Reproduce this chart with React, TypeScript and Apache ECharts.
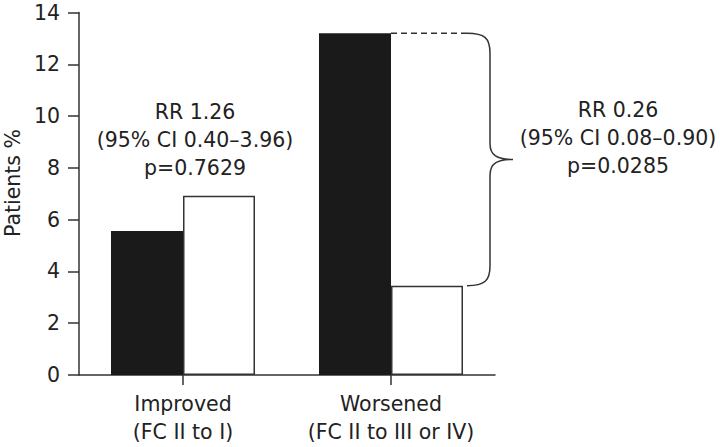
import React, { useEffect, useRef } from "react";
import * as echarts from "echarts";

const categories = ["Improved\n(FC II to I)", "Worsened\n(FC II to III or IV)"];
const seriesA = [5.56, 13.2];
const seriesB = [6.92, 3.45];
const yTicks = { min: 0, max: 14, interval: 2 };
const yTitle = "Patients %";
const annotLeft = ["RR 1.26", "(95% CI 0.40–3.96)", "p=0.7629"];
const annotRight = ["RR 0.26", "(95% CI 0.08–0.90)", "p=0.0285"];
const braceData = [[1, seriesA[1], seriesB[1]]];

const FONT = "DejaVu Sans, Liberation Sans, Arial, sans-serif";
const FS = 20.5;
const TXT = "#222";
const LINE = "#333";

export default function App() {
  const ref = useRef<HTMLDivElement>(null);
  useEffect(() => {
    if (!ref.current) return;
    const chart = echarts.init(ref.current, null, { renderer: "svg" });
    chart.setOption({
      animation: false,
      backgroundColor: "#fff",
      textStyle: { fontFamily: FONT },
      grid: { left: 79, right: 225, top: 12.5, bottom: 72, containLabel: false },
      xAxis: {
        type: "category",
        data: categories,
        axisLine: { show: true, lineStyle: { color: LINE, width: 1.5 } },
        axisTick: { show: true, alignWithLabel: true, length: 10, lineStyle: { color: LINE, width: 1.5 } },
        axisLabel: { interval: 0, fontSize: FS, color: TXT, lineHeight: 28, margin: 15, fontFamily: FONT },
      },
      yAxis: {
        type: "value",
        min: yTicks.min,
        max: yTicks.max,
        interval: yTicks.interval,
        axisLine: { show: true, lineStyle: { color: LINE, width: 1.5 } },
        axisTick: { show: true, length: 11, lineStyle: { color: LINE, width: 1.5 } },
        axisLabel: { fontSize: FS, color: TXT, margin: 19, fontFamily: FONT },
        splitLine: { show: false },
      },
      series: [
        {
          type: "bar",
          data: seriesA,
          barWidth: 72,
          barGap: "0%",
          itemStyle: { color: "#1a1a1a", borderColor: "#1a1a1a", borderWidth: 0 },
        },
        {
          type: "bar",
          data: seriesB,
          barWidth: 72,
          barGap: "0%",
          itemStyle: { color: "#fff", borderColor: LINE, borderWidth: 1.5 },
        },
        {
          type: "custom",
          data: braceData,
          silent: true,
          z: 5,
          renderItem: (params: any, api: any) => {
            const c = api.value(0);
            const top = api.coord([c, api.value(1)]);
            const bot = api.coord([c, api.value(2)]);
            const xs = top[0];
            const x0 = xs + 76;
            const yT = top[1];
            const yB = bot[1];
            const ym = (yT + yB) / 2;
            const d = `M ${x0} ${yT} C ${x0 + 18} ${yT} ${x0 + 23} ${yT + 5} ${x0 + 23} ${yT + 20} L ${x0 + 23} ${ym - 16} C ${x0 + 23} ${ym - 4} ${x0 + 30} ${ym} ${x0 + 46} ${ym} C ${x0 + 30} ${ym} ${x0 + 23} ${ym + 4} ${x0 + 23} ${ym + 16} L ${x0 + 23} ${yB - 20} C ${x0 + 23} ${yB - 5} ${x0 + 18} ${yB} ${x0} ${yB}`;
            return {
              type: "group",
              children: [
                {
                  type: "line",
                  shape: { x1: xs, y1: yT, x2: x0, y2: yT },
                  style: { stroke: LINE, lineWidth: 1.5, lineDash: [6, 4] },
                },
                {
                  type: "path",
                  shape: { pathData: d },
                  style: { fill: "none", stroke: LINE, lineWidth: 1.5 },
                },
              ],
            };
          },
        },
      ],
      graphic: [
        {
          type: "text",
          x: 13,
          y: 183,
          rotation: Math.PI / 2,
          style: {
            text: yTitle,
            align: "center",
            verticalAlign: "middle",
            fontSize: FS,
            fill: TXT,
            fontFamily: FONT,
          },
        },
        {
          type: "text",
          x: 195,
          y: 98,
          style: {
            text: annotLeft.join("\n"),
            align: "center",
            verticalAlign: "top",
            fontSize: FS,
            lineHeight: 28,
            fill: TXT,
            fontFamily: FONT,
          },
        },
        {
          type: "text",
          x: 618,
          y: 96,
          style: {
            text: annotRight.join("\n"),
            align: "center",
            verticalAlign: "top",
            fontSize: FS,
            lineHeight: 28,
            fill: TXT,
            fontFamily: FONT,
          },
        },
      ],
    });
    return () => chart.dispose();
  }, []);
  return (
    <div
      ref={ref}
      style={{ position: "fixed", left: 0, top: 0, width: 720, height: 447, background: "#fff" }}
    />
  );
}
